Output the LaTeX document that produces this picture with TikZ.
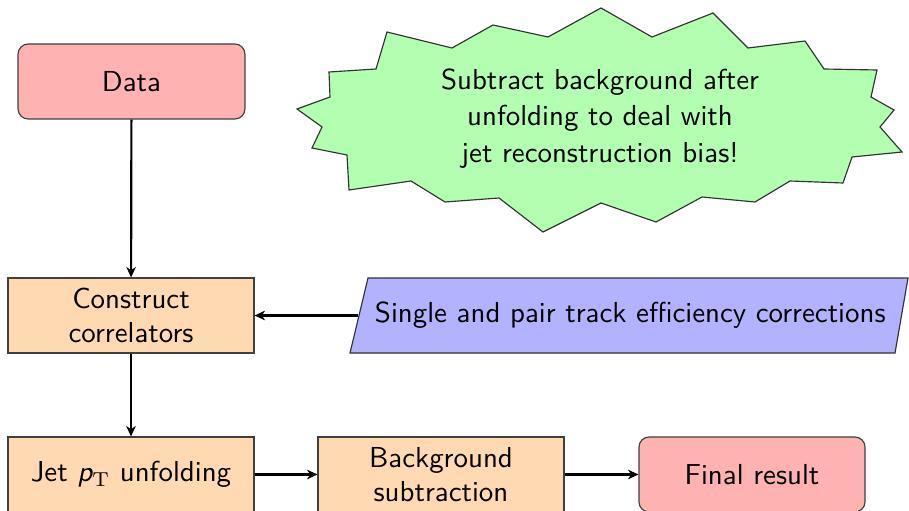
\documentclass[tikz,border=0pt]{standalone}
\usepackage{fontspec}
\usetikzlibrary{arrows.meta}
\newcommand\pxu{0.346pt}
\tikzset{
  box/.style={draw=black!75, thin, align=center, font=\sffamily,
    minimum width=85.1pt, minimum height=25.95pt, inner sep=0pt},
  stepbox/.style={box, fill=orange!30},
  endbox/.style={box, fill=red!30, rounded corners=3.5pt},
  outline/.style={draw=black!80, thin, line join=miter},
  label/.style={align=center, font=\sffamily, inner sep=0pt},
  flow/.style={-{Stealth[length=3.6pt, width=3.3pt, inset=1.1pt]}, line width=0.75pt},
}
\begin{document}
\begin{tikzpicture}[x=\pxu, y=-\pxu]
\useasboundingbox (0,0) rectangle (909,511);
\clip (0,0) rectangle (909,511);

% process boxes
\node[endbox, minimum width=78.5pt] (data) at (131.5,81.5) {Data};
\node[stepbox] (cons) at (131,315.5) {Construct\\correlators};
\node[stepbox] (jet) at (131,474.5) {Jet {\itshape p}$_{\mathrm{T}}$ unfolding};
\node[stepbox] (bkg) at (441,474.5) {Background\\subtraction};
\node[endbox, minimum width=78.2pt] (fin) at (752,474.5) {Final result};

% efficiency corrections: slanted input box
\path[outline, fill=blue!30] (350,353) -- (368,278) -- (908,278) -- (895,353) -- cycle;
\node[label, minimum width=187.7pt, minimum height=25.95pt] (eff) at (630.25,315.5)
  {Single and pair track efficiency corrections};

% reminder burst
\path[outline, fill=green!30]
  (601,8) -- (652,37) -- (713,13) -- (748,48) -- (805,41) -- (824,69)
  -- (877,70) -- (871,97) -- (894,110) -- (880,127) -- (902,152) -- (852,157)
  -- (843,183) -- (790,181) -- (755,202) -- (702,197) -- (656,222) -- (601,203)
  -- (543,232) -- (499,198) -- (445,202) -- (411,181) -- (349,190) -- (347,155)
  -- (312,148) -- (322,127) -- (297,109) -- (330,97) -- (329,72) -- (376,69)
  -- (387,32) -- (452,48) -- (493,25) -- (548,37) -- cycle;
\node[label] (note) at (600,118.5)
  {Subtract background after\\[0.6pt]unfolding to deal with\\[0.6pt]jet reconstruction bias!};

% flow
\draw[flow] (data) -- (cons);
\draw[flow] (eff) -- (cons);
\draw[flow] (cons) -- (jet);
\draw[flow] (jet) -- (bkg);
\draw[flow] (bkg) -- (fin);
\end{tikzpicture}
\end{document}
